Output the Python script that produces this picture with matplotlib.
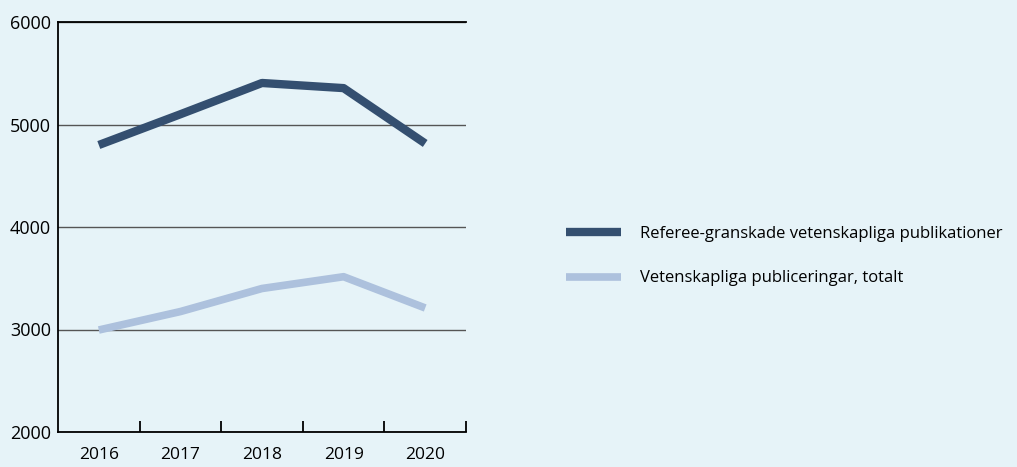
import matplotlib.pyplot as plt

plt.rcParams['font.family'] = 'Open Sans'

# Data
years = ["2016", "2017", "2018", "2019", "2020"]
refereed = [4800, 5100, 5405, 5355, 4815]
total = [2995, 3175, 3400, 3515, 3210]
labels = ["Referee-granskade vetenskapliga publikationer", "Vetenskapliga publiceringar, totalt"]

bg = "#e6f3f8"
dark = "#344f70"
light = "#adc1dd"

fig = plt.figure(figsize=(10.17, 4.67), dpi=100, facecolor=bg)
ax = fig.add_axes([58 / 1017, 35 / 467, 408 / 1017, 410 / 467], facecolor=bg)

x = list(range(len(years)))
ax.plot(x, refereed, color=dark, lw=6, solid_capstyle='butt', label=labels[0], zorder=3)
ax.plot(x, total, color=light, lw=5.5, solid_capstyle='butt', label=labels[1], zorder=3)

ax.set_xlim(-0.5, len(years) - 0.5)
ax.set_ylim(2000, 6000)

# ticks between the categories, labels centred in each band
ax.set_xticks([i + 0.5 for i in x])
ax.set_xticklabels([])
ax.set_xticks(x, minor=True)
ax.set_xticklabels(years, minor=True, fontsize=12.5)
ax.tick_params(axis='x', which='major', direction='in', length=8, width=1.3, color='black')
ax.tick_params(axis='x', which='minor', length=0, pad=11)

ax.set_yticks([2000, 3000, 4000, 5000, 6000])
ax.tick_params(axis='y', length=0, pad=5, labelsize=13)
ax.yaxis.grid(True, color='#555555', lw=1)
ax.set_axisbelow(True)

for s in ['left', 'bottom', 'top']:
    ax.spines[s].set_color('black')
    ax.spines[s].set_linewidth(1.3)
ax.spines['right'].set_visible(False)

fig.legend(loc='upper left', bbox_to_anchor=(566 / 1017, 1 - 226 / 467),
           frameon=False, fontsize=12, handlelength=3.3, handletextpad=1.15,
           labelspacing=1.7, borderpad=0, borderaxespad=0)

fig.savefig("out.png", dpi=100, facecolor=bg)
